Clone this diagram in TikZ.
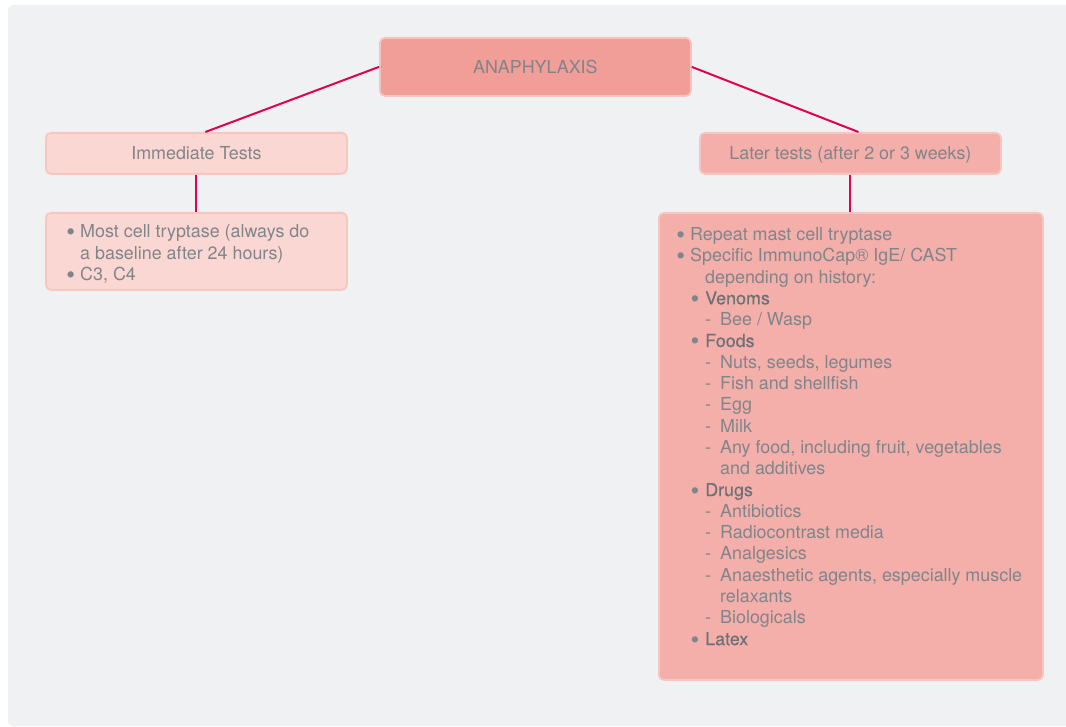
\documentclass[tikz,border=0pt]{standalone}
\usepackage{fontspec}
\setmainfont{TeX Gyre Heros}
\newfontfamily\hdfont[FakeBold=0.35]{TeX Gyre Heros}

\definecolor{panel}{HTML}{F0F1F3}
\definecolor{topfill}{HTML}{F19D98}
\definecolor{topedge}{HTML}{F7C3BE}
\definecolor{palefill}{HTML}{FBD7D3}
\definecolor{paleedge}{HTML}{F8C6C1}
\definecolor{midfill}{HTML}{F4AFAB}
\definecolor{midedge}{HTML}{F8C4BF}
\definecolor{linkred}{HTML}{E2004F}
\definecolor{txt}{HTML}{80858A}
\definecolor{hdtxt}{HTML}{6C7176}

% list helpers: bullets, sub-bullets, dashes and hanging continuations
\newcommand{\bigdot}{\smash{\raisebox{-3pt}{\scalebox{1.4}{\textbullet}}}}
\newcommand{\bulA}{\makebox[14pt][l]{\hspace{0.2pt}\bigdot}}
\newcommand{\bulB}{\hspace*{14.5pt}\makebox[14.5pt][l]{\bigdot}}
\newcommand{\dashC}{\hspace*{29pt}\makebox[15pt][l]{-}}
\newcommand{\hd}[1]{{\hdfont\color{hdtxt}#1}}

\tikzset{
  box/.style={rounded corners=5pt, line width=1.8pt, inner sep=0pt,
    anchor=north west, text=txt, font=\fontsize{17.9}{21.3}\selectfont},
  boxtitle/.style={text height=12.9pt, text depth=0pt},
  toptitle/.style={box, boxtitle, fill=topfill, draw=topedge},
  palebox/.style={box, fill=palefill, draw=paleedge},
  midbox/.style={box, fill=midfill, draw=midedge},
  listtext/.style={anchor=base west, inner sep=0pt, text=txt,
    font=\fontsize{17.9}{21.3}\selectfont},
  link/.style={draw=linkred, line width=2pt}
}

\begin{document}
\begin{tikzpicture}[x=1pt,y=-1pt]
\useasboundingbox (0,0) rectangle (1066,727);
\fill[white] (0,0) rectangle (1066,727);
\fill[panel, rounded corners=5pt] (8,5) rectangle (1080,726);

% boxes
\node[toptitle, minimum width=311pt, minimum height=58pt] (ana) at (379,37) {ANAPHYLAXIS};
\node[palebox, boxtitle, minimum width=301pt, minimum height=41pt] (imm) at (45,132) {Immediate Tests};
\node[midbox, boxtitle, minimum width=301pt, minimum height=41pt] (later) at (699,132) {Later tests (after 2 or 3 weeks)};
\node[palebox, minimum width=301pt, minimum height=77pt] (immlist) at (45,212) {};
\node[midbox, minimum width=384pt, minimum height=467pt] (laterlist) at (658,212) {};

% connectors
\draw[link] (ana.west) -- ([xshift=9pt]imm.north);
\draw[link] (ana.east) -- ([xshift=8pt]later.north);
\draw[link] (imm.south) -- (immlist.north -| imm.south);
\draw[link] (later.south) -- (laterlist.north -| later.south);

% list contents
\node[listtext] (immtext) at (66,238) {\parbox[t]{280pt}{%
\bulA Most cell tryptase (always do\\
\hspace*{14pt}a baseline after 24 hours)\\
\bulA C3, C4}};

\node[listtext] (latertext) at (676,240.5) {\parbox[t]{360pt}{%
\bulA Repeat mast cell tryptase\\
\bulA Specific ImmunoCap® IgE/ CAST\\
\hspace*{29pt}depending on history:\\
\bulB\hd{Venoms}\\
\dashC Bee / Wasp\\
\bulB\hd{Foods}\\
\dashC Nuts, seeds, legumes\\
\dashC Fish and shellfish\\
\dashC Egg\\
\dashC Milk\\
\dashC Any food, including fruit, vegetables\\
\hspace*{44pt}and additives\\
\bulB\hd{Drugs}\\
\dashC Antibiotics\\
\dashC Radiocontrast media\\
\dashC Analgesics\\
\dashC Anaesthetic agents, especially muscle\\
\hspace*{44pt}relaxants\\
\dashC Biologicals\\
\bulB\hd{Latex}}};
\end{tikzpicture}
\end{document}
